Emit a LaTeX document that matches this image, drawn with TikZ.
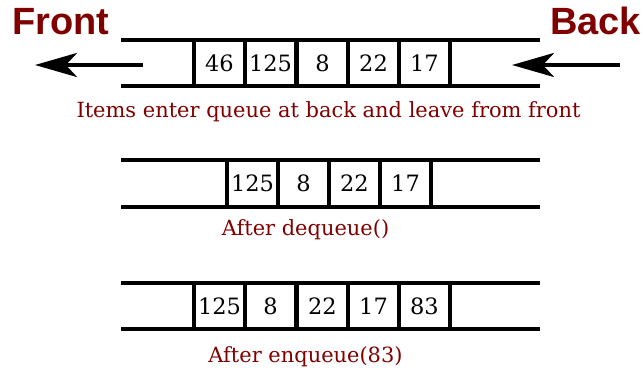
\documentclass[tikz,border=0pt]{standalone}
\usepackage{fontspec}
\setmainfont{DejaVu Serif}
\newfontfamily\headfont{Liberation Sans}
\usepackage{xcolor}
\usepackage{tikz}
\definecolor{qRed}{HTML}{800000}
\definecolor{qInk}{HTML}{000000}
\usetikzlibrary{arrows.meta}

\tikzset{
  rail/.style={draw=qInk, line width=2.3pt},
  cell/.style={draw=qInk, line width=2.3pt, minimum width=1.275cm, minimum height=1.15cm,
    inner sep=0pt, font=\fontsize{16}{18}\selectfont},
  caption/.style={text=qRed, font=\fontsize{14.9}{17}\selectfont, anchor=base},
  heading/.style={text=qRed, font=\headfont\bfseries\fontsize{27}{30}\selectfont, anchor=base},
  bigarrow/.style={draw=qInk, line width=2.8pt, -{Stealth[length=1.05cm, width=0.6cm, inset=0.28cm]}}
}

\begin{document}
\begin{tikzpicture}[x=0.025cm,y=-0.025cm]
  \useasboundingbox (0,0) rectangle (644,368);
  % queue before
  \draw[rail] (121,40) -- (540,40);
  \draw[rail] (121,86) -- (540,86);
  \foreach \x/\value/\name in {194/46/a1,245/125/a2,297/8/a3,348/22/a4,399/17/a5} {
    \node[cell] (\name) at (\x+25.5,63) {\value};
  }
  \node[heading] (front) at (61,34) {Front};
  \node[heading] (back) at (595.5,34) {Back};
  \coordinate (fronttail) at (143,65);
  \coordinate (fronttip) at (35,65);
  \coordinate (backtail) at (620,65);
  \coordinate (backtip) at (512,65);
  \draw[bigarrow] (fronttail) -- (fronttip);
  \draw[bigarrow] (backtail) -- (backtip);
  \node[caption] (cap1) at (328.5,117.5) {Items enter queue at back and leave from front};
  % after dequeue
  \draw[rail] (121,160) -- (540,160);
  \draw[rail] (121,207) -- (540,207);
  \foreach \x/\value/\name in {227/125/b1,278/8/b2,329/22/b3,380/17/b4} {
    \node[cell] (\name) at (\x+25.5,183.5) {\value};
  }
  \node[caption] (cap2) at (305.5,235.7) {After dequeue()};
  % after enqueue
  \draw[rail] (121,283) -- (540,283);
  \draw[rail] (121,329) -- (540,329);
  \foreach \x/\value/\name in {194/125/c1,245/8/c2,297/22/c3,348/17/c4,399/83/c5} {
    \node[cell] (\name) at (\x+25.5,306) {\value};
  }
  \node[caption] (cap3) at (305.5,362) {After enqueue(83)};
\end{tikzpicture}
\end{document}
